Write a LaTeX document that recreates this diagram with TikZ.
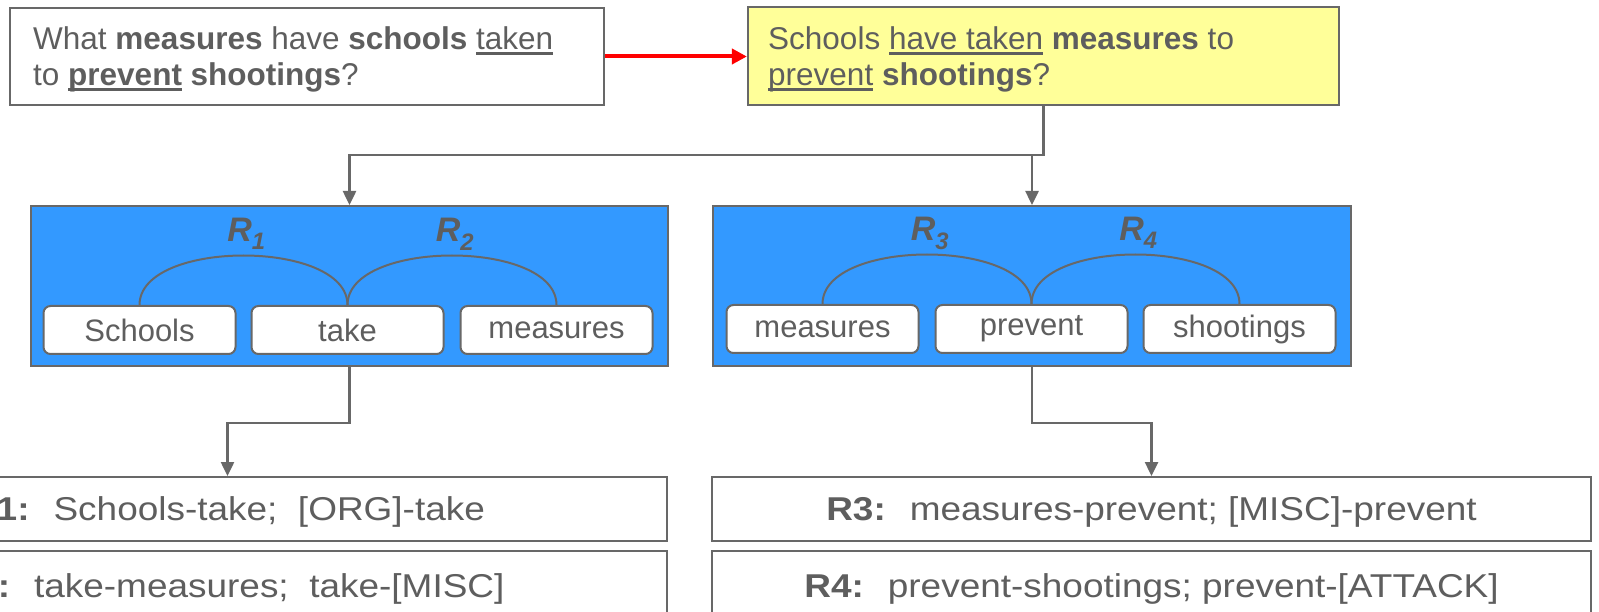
\documentclass[tikz,border=0pt]{standalone}
\usepackage{fontspec}
\setmainfont{Liberation Sans}
\newfontfamily\widesans{Liberation Sans}[FakeStretch=1.12]
\usetikzlibrary{arrows.meta,calc}

\definecolor{ink}{HTML}{5E5E5E}
\definecolor{edge}{HTML}{686868}
\definecolor{panelblue}{HTML}{3399FF}
\definecolor{notefill}{HTML}{FFFF99}

% underline drawn just below the baseline of a word
\newcommand\ulword[1]{\setbox0\hbox{#1}\rlap{\rule[-5pt]{\wd0}{2.6pt}}\box0\relax}

\tikzset{
  qbox/.style={draw=edge, line width=2.2pt, inner sep=0pt},
  qtext/.style={inner sep=0pt, align=left, text=ink,
                font=\fontsize{31.5}{36}\selectfont},
  rewrite/.style={draw=red, line width=4pt, -{Triangle[length=15pt,width=15pt]}},
  flow/.style={draw=edge, line width=2.5pt, -{Triangle[length=14pt,width=13pt]}},
  panel/.style={draw=edge, line width=2pt, fill=panelblue, inner sep=0pt},
  word/.style={draw=edge, line width=2pt, fill=white, rounded corners=7pt,
               minimum width=192pt, minimum height=48pt, inner sep=0pt,
               text=ink, font=\fontsize{31}{36}\selectfont},
  arcline/.style={draw=edge, line width=2pt},
  rel/.style={inner sep=0pt, text=ink,
              font=\fontsize{34}{40}\selectfont\bfseries\itshape},
  res/.style={draw=edge, line width=2pt, fill=white, inner sep=0pt,
              minimum width=879pt, text=ink, text depth=0pt,
              font=\widesans\fontsize{33}{38}\selectfont},
}

\begin{document}
\begin{tikzpicture}[x=1pt, y=-1pt]
\useasboundingbox (0,0) rectangle (1599,612);

% question and its rewritten form
\node[qbox, minimum width=594pt, minimum height=97pt] (q1) at (307,56.5) {};
\node[qtext, anchor=north west] (q1txt) at (33,26.5)
  {What \textbf{measures} have \textbf{schools} \ulword{taken}\\
   to \ulword{\textbf{prevent}} \textbf{shootings}?};
\node[qbox, fill=notefill, minimum width=591pt, minimum height=98pt] (q2) at (1043.5,56) {};
\node[qtext, anchor=north west] (q2txt) at (768,26.5)
  {Schools \ulword{have taken} \textbf{measures} to\\
   \ulword{prevent} \textbf{shootings}?};
\draw[rewrite] (q1.east) -- (q1.east -| q2.west);

% dependency panels
\node[panel, minimum width=637pt, minimum height=160pt] (pl) at (349.5,286) {};
\node[panel, minimum width=638pt, minimum height=160pt] (pr) at (1032,286) {};

\coordinate (bus) at (q2.south |- 0,155);
\draw[flow] (q2.south) -- (bus) -| (pl.north);
\draw[flow] (pr.north |- bus) -- (pr.north);

\node[word] (w1) at (139.5,330) {Schools};
\node[word] (w2) at (347.5,330) {take};
\node[word] (w3) at (556.5,330) {measures};
\node[word] (w4) at (822.5,329) {measures};
\node[word] (w5) at (1031.5,329) {prevent};
\node[word] (w6) at (1239.5,329) {shootings};

\draw[arcline] (w1.north) .. controls ($(w1.north)+(0,-66)$) and ($(w2.north)+(0,-66)$) .. (w2.north);
\draw[arcline] (w2.north) .. controls ($(w2.north)+(0,-66)$) and ($(w3.north)+(0,-66)$) .. (w3.north);
\draw[arcline] (w4.north) .. controls ($(w4.north)+(0,-66)$) and ($(w5.north)+(0,-66)$) .. (w5.north);
\draw[arcline] (w5.north) .. controls ($(w5.north)+(0,-66)$) and ($(w6.north)+(0,-66)$) .. (w6.north);

\node[rel, anchor=base] (l1) at ($(w1.north)!0.5!(w2.north)+(3,-63)$) {R\textsubscript{1}};
\node[rel, anchor=base] (l2) at ($(w2.north)!0.5!(w3.north)+(3,-63)$) {R\textsubscript{2}};
\node[rel, anchor=base] (l3) at ($(w4.north)!0.5!(w5.north)+(3,-63)$) {R\textsubscript{3}};
\node[rel, anchor=base] (l4) at ($(w5.north)!0.5!(w6.north)+(3,-63)$) {R\textsubscript{4}};

% extracted relation patterns
\node[res, minimum height=64pt] (r1) at (227.5,509)
  {\textbf{R1:}~ Schools-take;~ [ORG]-take};
\node[res, minimum height=70pt] (r2) at (227.5,586)
  {\textbf{R2:}~ take-measures;~ take-[MISC]};
\node[res, minimum height=64pt] (r3) at (1151.5,509)
  {\textbf{R3:}~ measures-prevent; [MISC]-prevent};
\node[res, minimum height=70pt] (r4) at (1151.5,586)
  {\textbf{R4:}~ prevent-shootings; prevent-[ATTACK]};

\draw[flow] (pl.south) -- ++(0,56) -| (r1.north);
\draw[flow] (pr.south) -- ++(0,56) -| (r3.north);
\end{tikzpicture}
\end{document}
